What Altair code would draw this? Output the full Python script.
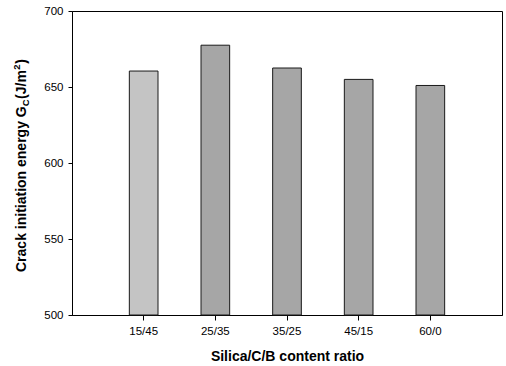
import altair as alt
import pandas as pd

categories = ["15/45", "25/35", "35/25", "45/15", "60/0"]
values = [660.5, 677.5, 662.5, 655.0, 651.0]
fills = ["#c4c4c4", "#a6a6a6", "#a6a6a6", "#a6a6a6", "#a6a6a6"]
y_ticks = [500, 550, 600, 650, 700]

# y-axis title pieces
title_main = "Crack initiation energy G"
title_sub = "C"
title_mid = "(J/m"
title_sup = "2"
title_end = ")"

FONT = "Liberation Sans"

df = pd.DataFrame({"ratio": categories, "value": values})

bars = alt.Chart(df).mark_bar(stroke="#1a1a1a", strokeWidth=1).encode(
    x=alt.X(
        "ratio:N",
        sort=categories,
        scale=alt.Scale(paddingInner=0.6, paddingOuter=0.8),
        axis=alt.Axis(
            title="Silica/C/B content ratio",
            labelAngle=0,
            tickSize=5,
            labelPadding=5,
            titlePadding=13,
            titleFontSize=14,
            titleFontWeight="bold",
        ),
    ),
    y=alt.Y(
        "value:Q",
        scale=alt.Scale(domain=[500, 700], zero=False, nice=False),
        axis=alt.Axis(values=y_ticks, title=None, tickSize=4, labelPadding=5),
    ),
    y2=alt.datum(500),
    color=alt.Color("ratio:N", scale=alt.Scale(domain=categories, range=fills), legend=None),
)


def seg(text, size, x, y):
    return alt.Chart(pd.DataFrame({"t": [text]})).mark_text(
        angle=270, align="left", baseline="alphabetic", font=FONT,
        fontWeight="bold", fontSize=size, color="black",
    ).encode(x=alt.value(x), y=alt.value(y), text="t:N")


# positions relative to plot origin (72, 11)
MAIN = 14
SMALL = 9.5
bx = -46
y0 = 261
y1 = y0 - 11837 * MAIN / 1000
y2 = y1 - 722 * SMALL / 1000 - 0.5
y3 = y2 - 2056 * MAIN / 1000 - 0.5
y4 = y3 - 556 * SMALL / 1000 - 0.5

chart = alt.layer(
    bars,
    seg(title_main, MAIN, bx, y0),
    seg(title_sub, SMALL, bx + 3, y1),
    seg(title_mid, MAIN, bx, y2),
    seg(title_sup, SMALL, bx - 6, y3),
    seg(title_end, MAIN, bx, y4),
).properties(
    width=430, height=304,
    autosize=alt.AutoSizeParams(type="none"),
    padding={"left": 72, "top": 11, "right": 4, "bottom": 51},
    background="white",
).configure_view(
    stroke="black", strokeWidth=1,
).configure_axis(
    grid=False,
    domainColor="black",
    tickColor="black",
    labelColor="black",
    titleColor="black",
    labelFont=FONT,
    titleFont=FONT,
    labelFontSize=11.5,
)

chart.save("out.html", embed_options={"renderer": "svg", "actions": False})
